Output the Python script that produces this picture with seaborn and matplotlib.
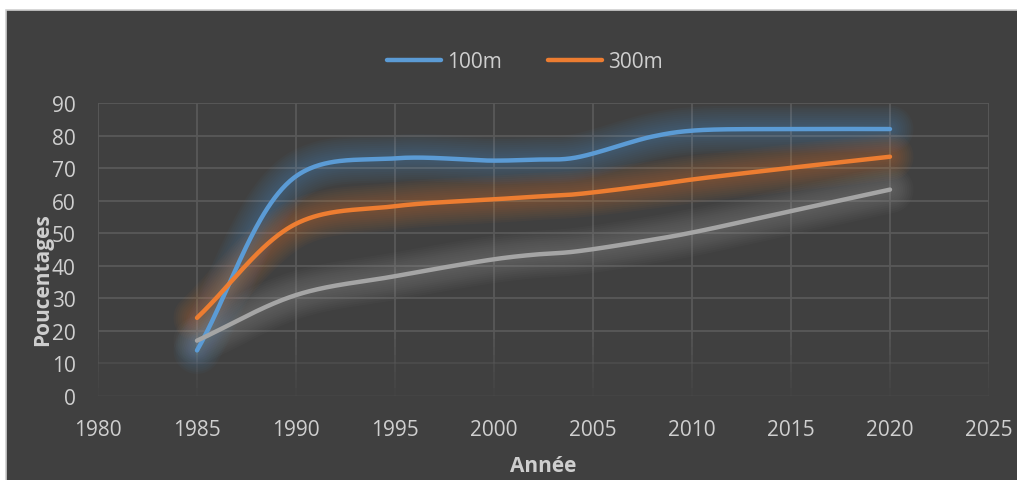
import numpy as np
import pandas as pd
import matplotlib
matplotlib.use("Agg")
import matplotlib.pyplot as plt
import seaborn as sns
from matplotlib.patches import Rectangle
from matplotlib.lines import Line2D

# Survey years and percentages per series
years = [1985, 1990, 1995, 2000, 2002, 2004, 2008, 2010, 2015, 2020]
pct_100m = [14, 67.5, 73, 72.3, 72.6, 73.1, 79.7, 81.5, 82, 82]
pct_300m = [24, 52.9, 58.3, 60.4, 61.2, 61.9, 64.8, 66.5, 70.1, 73.5]
pct_other = [17, 31, 36.8, 42, 43.4, 44.3, 48, 50.2, 56.8, 63.4]

series_names = ["100m", "300m", ""]
x_ticks = list(range(1980, 2030, 5))
y_ticks = list(range(0, 100, 10))

BG = "#404040"
GRID = "#595959"
TEXT = "#CFCFCF"
COLORS = ["#5B9BD5", "#ED7D31", "#A5A5A5"]

sns.set_theme(style="dark")
plt.rcParams["font.family"] = ["Open Sans", "DejaVu Sans"]

W, H = 1017, 481
fig = plt.figure(figsize=(W / 100, H / 100), dpi=100, facecolor="white")
fig.add_artist(Rectangle((6 / W, -0.01), 1.0, (H - 11) / H + 0.01,
                         transform=fig.transFigure, facecolor=BG,
                         edgecolor="#D0D0D0", lw=1.2, zorder=-10))

ax = fig.add_axes([98 / W, 84 / H, 891 / W, 293 / H])
ax.set_facecolor("none")
for s in ax.spines.values():
    s.set_visible(False)
ax.set_xlim(1980, 2025)
ax.set_ylim(0, 90)

# pixel scale factors used for the smoothing (years -> px, pct -> px)
SX, SY = 891 / 45, 293 / 90


def smooth_curve(xs, ys, n=60):
    """Centripetal Catmull-Rom curve through every point (drawn as Beziers)."""
    P = np.column_stack([np.asarray(xs, float) * SX, np.asarray(ys, float) * SY])
    # phantom end points by reflection
    Q = np.vstack([2 * P[0] - P[1], P, 2 * P[-1] - P[-2]])
    d = np.sqrt(np.linalg.norm(np.diff(Q, axis=0), axis=1))

    def tangent(k):  # k indexes Q (interior points only)
        return ((Q[k] - Q[k - 1]) / d[k - 1]
                - (Q[k + 1] - Q[k - 1]) / (d[k - 1] + d[k])
                + (Q[k + 1] - Q[k]) / d[k])

    t = np.linspace(0, 1, n)[:, None]
    out = []
    for i in range(len(P) - 1):
        k = i + 1
        p0, p1 = Q[k], Q[k + 1]
        c1 = p0 + tangent(k) * d[k] / 3
        c2 = p1 - tangent(k + 1) * d[k] / 3
        seg = ((1 - t) ** 3) * p0 + 3 * ((1 - t) ** 2) * t * c1 \
            + 3 * (1 - t) * t ** 2 * c2 + t ** 3 * p1
        out.append(seg if i == 0 else seg[1:])
    out = np.vstack(out)
    return out[:, 0] / SX, out[:, 1] / SY


# gridlines, fading toward the bottom of the plot
for yv in y_ticks:
    a = 1.0 if yv >= 20 else (0.45 if yv == 10 else 0.2)
    ax.axhline(yv, color=GRID, lw=1.3, alpha=a, zorder=0)
steps = np.linspace(20, 0, 9)
for xv in x_ticks:
    ax.plot([xv, xv], [20, 90], color=GRID, lw=1.3, zorder=0)
    for k in range(len(steps) - 1):
        ax.plot([xv, xv], [steps[k], steps[k + 1]], color=GRID, lw=1.3,
                alpha=1 - (k + 1) / len(steps), zorder=0, solid_capstyle="butt")

values = [pct_100m, pct_300m, pct_other]
for idx, (vals, col) in enumerate(zip(values, COLORS)):
    sx, sy = smooth_curve(years, vals)
    df = pd.DataFrame({"year": sx, "pct": sy})
    # soft glow built from stacked translucent strokes
    for w in np.arange(34, 6, -3):
        ax.plot(sx, sy, color=col, lw=w, alpha=0.035, solid_capstyle="round",
                solid_joinstyle="round", zorder=1 + idx)
    sns.lineplot(data=df, x="year", y="pct", sort=False, estimator=None,
                 color=col, lw=3.2, ax=ax, zorder=5 + idx)
    ax.lines[-1].set_solid_capstyle("round")

ax.set_xticks(x_ticks)
ax.set_yticks(y_ticks)
ax.grid(False)
ax.tick_params(axis="both", length=0, colors=TEXT, labelsize=15)
ax.tick_params(axis="x", pad=16.5)
ax.tick_params(axis="y", pad=16)
ax.set_xlabel("")
ax.set_ylabel("")

fig.text(543 / W, 1 - 466 / H, "Année", ha="center", va="center",
         color=TEXT, fontsize=15, fontweight="bold")
fig.text(43 / W, 1 - 280 / H, "Poucentages", ha="center", va="center",
         rotation=90, color=TEXT, fontsize=15, fontweight="bold")

handles = [Line2D([], [], color=c, lw=3.2, solid_capstyle="round")
           for c in COLORS[:2]]
fig.legend(handles, series_names[:2], loc="center",
           bbox_to_anchor=(525 / W, 1 - 63 / H), ncol=2, frameon=False,
           handlelength=2.6, handletextpad=0.3, columnspacing=2.2,
           fontsize=15, labelcolor=TEXT)

fig.savefig("out.png", dpi=100, facecolor="white")
